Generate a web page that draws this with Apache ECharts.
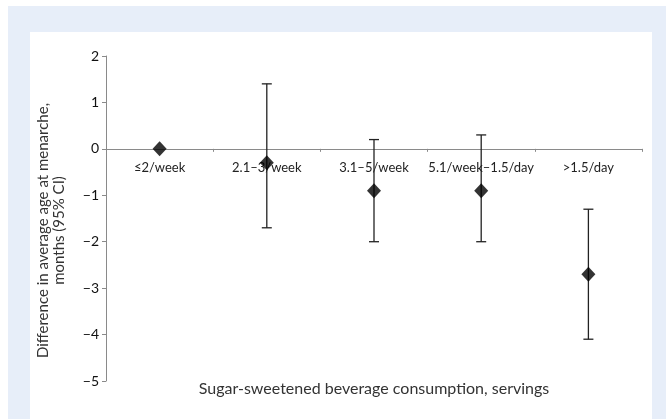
<!DOCTYPE html>
<html>
<head>
<meta charset="utf-8">
<script src="https://cdn.jsdelivr.net/npm/echarts@6/dist/echarts.min.js"></script>
<style>
  html, body { margin: 0; padding: 0; background: #fff; }
  #frame { position: absolute; left: 8px; top: 6px; width: 658px; height: 413px; background: #e7eef9; }
  #panel { position: absolute; left: 30px; top: 32px; width: 622px; height: 387px; background: #fff; }
  #chart { position: absolute; left: 0; top: 0; width: 666px; height: 419px; }
</style>
</head>
<body>
<div id="frame"></div>
<div id="panel"></div>
<div id="chart"></div>
<script>
const categories = ["≤2/week", "2.1–3/week", "3.1–5/week", "5.1/week–1.5/day", ">1.5/day"];
const estimates = [0, -0.3, -0.9, -0.9, -2.7];
const ciLow = [null, -1.7, -2.0, -2.0, -4.1];
const ciHigh = [null, 1.4, 0.2, 0.3, -1.3];

const font = "Lato, 'Open Sans', sans-serif";
const chart = echarts.init(document.getElementById("chart"), null, { renderer: "canvas" });

const errorData = categories
  .map((c, i) => [i, ciLow[i], ciHigh[i]])
  .filter(d => d[1] !== null);

const gridTop = 56, gridBottom = 38, yMin = -5, yMax = 2;
// move the category axis (line, ticks, labels) up to the zero line
const zeroOffset = (419 - gridTop - gridBottom) * (0 - yMin) / (yMax - yMin);

chart.setOption({
  animation: false,
  backgroundColor: "transparent",
  grid: { left: 106, right: 24, top: gridTop, bottom: gridBottom, containLabel: false, outerBoundsMode: "none" },
  xAxis: {
    type: "category",
    data: categories,
    boundaryGap: true,
    position: "bottom",
    offset: -zeroOffset,
    axisLine: { onZero: false, lineStyle: { color: "#8a8a8a", width: 1 } },
    axisTick: { show: true, length: 3, lineStyle: { color: "#8a8a8a" } },
    axisLabel: { color: "#222", fontFamily: font, fontSize: 13, margin: 12, interval: 0 },
    name: "Sugar-sweetened beverage consumption, servings",
    nameLocation: "middle",
    nameGap: 232,
    nameTextStyle: { color: "#333", fontFamily: font, fontSize: 16 },
    splitLine: { show: false }
  },
  yAxis: {
    type: "value",
    min: yMin,
    max: yMax,
    interval: 1,
    axisLine: { show: true, lineStyle: { color: "#8a8a8a", width: 1 } },
    axisTick: { show: true, length: 4, lineStyle: { color: "#8a8a8a" } },
    axisLabel: { color: "#111", fontFamily: font, fontSize: 14, margin: 7, formatter: v => String(v).replace("-", "−") },
    splitLine: { show: false },
    name: "Difference in average age at menarche,\nmonths (95% CI)",
    nameLocation: "middle",
    nameGap: 39,
    nameRotate: 90,
    nameTextStyle: { color: "#333", fontFamily: font, fontSize: 15, lineHeight: 16, padding: [0, 24, 0, 0] }
  },
  series: [
    {
      type: "custom",
      data: errorData,
      z: 1,
      renderItem: (params, api) => {
        const lo = api.coord([api.value(0), api.value(1)]);
        const hi = api.coord([api.value(0), api.value(2)]);
        const cap = 5;
        const style = { stroke: "#222", lineWidth: 1.3 };
        return {
          type: "group",
          children: [
            { type: "line", shape: { x1: lo[0], y1: lo[1], x2: hi[0], y2: hi[1] }, style },
            { type: "line", shape: { x1: lo[0] - cap, y1: lo[1], x2: lo[0] + cap, y2: lo[1] }, style },
            { type: "line", shape: { x1: hi[0] - cap, y1: hi[1], x2: hi[0] + cap, y2: hi[1] }, style }
          ]
        };
      }
    },
    {
      type: "scatter",
      data: estimates,
      symbol: "diamond",
      symbolSize: [14, 15],
      itemStyle: { color: "#000" },
      z: 3
    }
  ]
});
</script>
</body>
</html>
